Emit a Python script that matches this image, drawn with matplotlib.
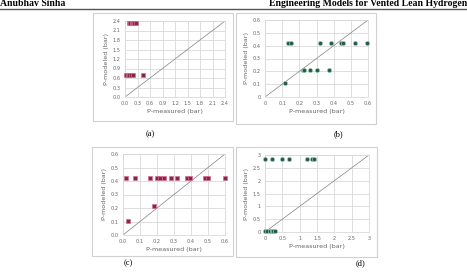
import numpy as np
import matplotlib
matplotlib.use("Agg")
import matplotlib.pyplot as plt
from matplotlib.patches import Rectangle
from matplotlib.lines import Line2D

W, H = 467, 277

# ===================== DATA =====================
# (a)
a_x = [0.10, 0.13, 0.16, 0.19, 0.22, 0.26, 0.02, 0.06, 0.10, 0.14, 0.18, 0.43]
a_y = [2.33, 2.33, 2.33, 2.33, 2.33, 2.33, 0.70, 0.70, 0.70, 0.70, 0.70, 0.70]
a_ticks = [0.0, 0.3, 0.6, 0.9, 1.2, 1.5, 1.8, 2.1, 2.4]

# (b)
b_x = [0.117, 0.136, 0.150, 0.220, 0.230, 0.263, 0.300, 0.372,
       0.320, 0.386, 0.440, 0.455, 0.526, 0.596]
b_y = [0.11, 0.42, 0.42, 0.21, 0.21, 0.21, 0.21, 0.21,
       0.42, 0.42, 0.42, 0.42, 0.42, 0.42]
b_ticks = [0, 0.1, 0.2, 0.3, 0.4, 0.5, 0.6]
b_labels = ["0", "0.1", "0.2", "0.3", "0.4", "0.5", "0.6"]

# (c)
c_x = [0.03, 0.18, 0.02, 0.07, 0.16, 0.20, 0.215, 0.24, 0.28, 0.32,
       0.375, 0.395, 0.48, 0.50, 0.60]
c_y = [0.105, 0.215, 0.42, 0.42, 0.42, 0.42, 0.42, 0.42, 0.42, 0.42,
       0.42, 0.42, 0.42, 0.42, 0.42]
c_ticks = [0.0, 0.1, 0.2, 0.3, 0.4, 0.5, 0.6]

# (d)
d_x = [0.0, 0.19, 0.50, 0.69, 1.20, 1.37, 1.42,
       0.0, 0.05, 0.14, 0.19, 0.24, 0.29]
d_y = [2.84, 2.84, 2.84, 2.84, 2.84, 2.84, 2.84,
       0.04, 0.04, 0.04, 0.04, 0.04, 0.04]
d_ticks = [0, 0.5, 1, 1.5, 2, 2.5, 3]
d_labels = ["0", "0.5", "1", "1.5", "2", "2.5", "3"]


# ===================== HELPERS =====================
def px_rect(x0, y0, x1, y1):
    return [x0 / W, 1 - y1 / H, (x1 - x0) / W, (y1 - y0) / H]


fig = plt.figure(figsize=(W / 100, H / 100), dpi=100)
fig.patch.set_facecolor("white")

txt_col = "#666666"
grid_col = "#d9d9d9"


def panel(box, plot, xs, ys, ticks, tlabels, marker, fc, ec):
    fig.patches.append(Rectangle((box[0] / W, 1 - box[3] / H),
                                 (box[2] - box[0]) / W, (box[3] - box[1]) / H,
                                 transform=fig.transFigure, fill=False,
                                 edgecolor="#d0d0d0", linewidth=0.8))
    ax = fig.add_axes(px_rect(*plot))
    lo, hi = ticks[0], ticks[-1]
    ax.set_xlim(lo, hi)
    ax.set_ylim(lo, hi)
    ax.set_xticks(ticks)
    ax.set_yticks(ticks)
    ax.set_xticklabels(tlabels, fontsize=3.6, color=txt_col)
    ax.set_yticklabels(tlabels, fontsize=3.6, color=txt_col)
    ax.tick_params(length=0, pad=3)
    ax.grid(True, color=grid_col, linewidth=0.6)
    ax.set_axisbelow(True)
    for s in ax.spines.values():
        s.set_color(grid_col)
        s.set_linewidth(0.6)
    ax.plot([lo, hi], [lo, hi], color="#808080", linewidth=0.5)
    ax.scatter(xs, ys, marker=marker, s=9, facecolor=fc, edgecolor=ec,
               linewidth=0.5, zorder=3, clip_on=False)
    ax.set_xlabel("P-measured (bar)", fontsize=4.6, color=txt_col, labelpad=2)
    ax.set_ylabel("P-modeled (bar)", fontsize=4.6, color=txt_col, labelpad=3)
    return ax


sq_fc, sq_ec = "#8a2448", "#d27090"
ci_fc, ci_ec = "#1f5a44", "#9cc8b4"

panel((93, 13, 233, 121), (125, 21, 225, 97), a_x, a_y, a_ticks,
      [f"{t:.1f}" for t in a_ticks], "s", sq_fc, sq_ec)
panel((236, 13, 376, 124), (265, 20, 368, 97), b_x, b_y, b_ticks,
      b_labels, "o", ci_fc, ci_ec)
panel((92, 147, 233, 256), (123, 154, 225, 235), c_x, c_y, c_ticks,
      [f"{t:.1f}" for t in c_ticks], "s", sq_fc, sq_ec)
panel((236, 147, 377, 257), (265, 155, 369, 232), d_x, d_y, d_ticks,
      d_labels, "o", ci_fc, ci_ec)

# ===================== PAGE TEXT =====================
serif = ["Liberation Serif", "DejaVu Serif"]
fig.text(0 / W, 1 - 3.2 / H, "Anubhav Sinha", fontsize=7, fontweight="bold",
         family=serif, ha="left", va="center")
fig.text(467 / W, 1 - 3.2 / H, "Engineering Models for Vented Lean Hydrogen",
         fontsize=7, fontweight="bold", family=serif, ha="right", va="center")
fig.lines.append(Line2D([0, 1], [1 - 9 / H, 1 - 9 / H], transform=fig.transFigure,
                        color="#555555", linewidth=1.0))

for lab, x, y in [("(a)", 150, 134), ("(b)", 338, 134),
                  ("(c)", 128, 263), ("(d)", 360, 263)]:
    fig.text(x / W, 1 - y / H, lab, fontsize=6, family=serif,
             ha="center", va="center")

fig.savefig("out.png", dpi=100)
